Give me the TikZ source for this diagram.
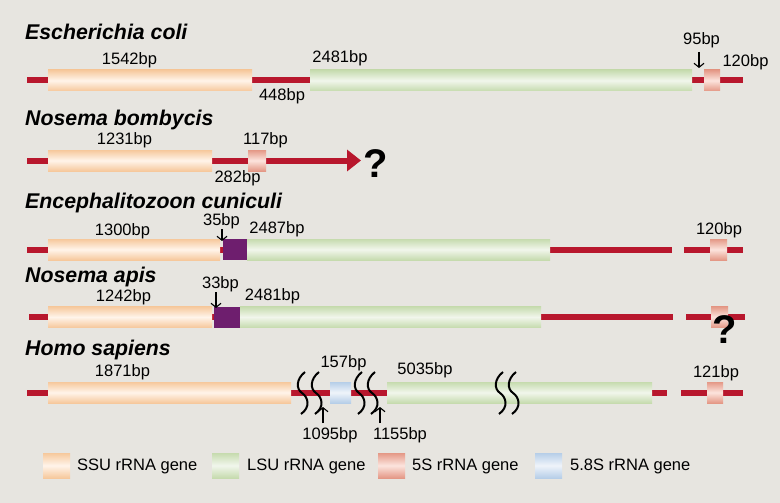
\documentclass[tikz,border=0pt]{standalone}
\usepackage{fontspec}
\setmainfont{Liberation Sans}
\usetikzlibrary{positioning}
\usetikzlibrary{arrows.meta}

\definecolor{bgcol}{HTML}{E7E5E0}
\definecolor{dnared}{HTML}{B8172D}
\definecolor{itspurple}{HTML}{6E1E6E}
\definecolor{ssuE}{HTML}{F6C89C}
\definecolor{ssuM}{HTML}{FFF4EA}
\definecolor{lsuE}{HTML}{C6DBAE}
\definecolor{lsuM}{HTML}{F1F6EC}
\definecolor{fsE}{HTML}{E49886}
\definecolor{fsM}{HTML}{FCE4DD}
\definecolor{efsE}{HTML}{B6CEE8}
\definecolor{efsM}{HTML}{EFF4FA}

\tikzset{
    gene/.style={anchor=west, minimum height=21pt, inner sep=0pt, outer sep=0pt},
    ssu/.style={gene, top color=ssuE, bottom color=ssuE, middle color=ssuM},
    lsu/.style={gene, top color=lsuE, bottom color=lsuE, middle color=lsuM},
    fives/.style={gene, top color=fsE, bottom color=fsE, middle color=fsM},
    efives/.style={gene, top color=efsE, bottom color=efsE, middle color=efsM},
    its/.style={gene, fill=itspurple},
    swatch/.style={gene, minimum height=25pt, minimum width=27pt},
    dna/.style={draw=dnared, line width=6pt},
    title/.style={font=\fontsize{21.3}{24}\selectfont\bfseries\itshape, anchor=base west, inner sep=0pt},
    lbl/.style={font=\fontsize{16.5}{18}\selectfont, anchor=base, inner sep=0pt},
    key/.style={lbl, anchor=base west},
    qmark/.style={font=\fontsize{40}{44}\selectfont\bfseries, anchor=base, inner sep=0pt},
    ptr/.style={line width=1.1pt, -{Straight Barb[length=4pt,width=10pt]}},
    brk/.pic={\draw[line width=2pt] (3,-21) .. controls (-6,-14) and (-6,-4) .. (0,0)
        .. controls (6,4) and (9,14) .. (-1,21);}
}

\begin{document}
\begin{tikzpicture}[x=1pt, y=-1pt]
    \fill[bgcol] (0,0) rectangle (780,503);

    % Escherichia coli
    \node[title] (tEc) at (25,40) {Escherichia coli};
    \coordinate (aEc) at (27,80.5);
    \coordinate (bEc) at (743,80.5);
    \draw[dna] (aEc) -- (bEc);
    \node[ssu, minimum width=204pt] (ssuEc) at (48,80.5) {};
    \node[lsu, minimum width=382pt] (lsuEc) at (310,80.5) {};
    \node[fives, minimum width=16pt] (fsEc) at (704,80.5) {};
    \node[lbl] (lSsuEc) at (129.5,65) {1542bp};
    \node[lbl] (lLsuEc) at (340,63) {2481bp};
    \node[lbl] (lSpEc) at (282,100) {448bp};
    \node[lbl] (lGapEc) at (701.5,45) {95bp};
    \node[lbl] (lFsEc) at (745.5,67) {120bp};
    \coordinate (pGapEcA) at (699,52);
    \coordinate (pGapEcB) at (699,68);
    \draw[ptr] (pGapEcA) -- (pGapEcB);

    % Nosema bombycis
    \node[title] (tNb) at (25,125) {Nosema bombycis};
    \coordinate (aNb) at (27,160.5);
    \coordinate (tipNb) at (361,160.5);
    \draw[dna, -{Triangle[length=14pt,width=21pt]}] (aNb) -- (tipNb);
    \node[ssu, minimum width=164pt] (ssuNb) at (48,160.5) {};
    \node[fives, minimum width=18pt] (fsNb) at (248,160.5) {};
    \node[lbl] (lSsuNb) at (124.5,145) {1231bp};
    \node[lbl] (lFsNb) at (265.5,145) {117bp};
    \node[lbl] (lSpNb) at (237.5,182) {282bp};
    \node[qmark] (qNb) at (376,177) {?};

    % Encephalitozoon cuniculi
    \node[title] (tEnc) at (25,208) {Encephalitozoon cuniculi};
    \coordinate (aEnc) at (27,249.5);
    \coordinate (bEnc) at (672,249.5);
    \coordinate (cEnc) at (684,249.5);
    \coordinate (dEnc) at (743,249.5);
    \draw[dna] (aEnc) -- (bEnc);
    \draw[dna] (cEnc) -- (dEnc);
    \node[ssu, minimum width=172pt] (ssuEnc) at (48,249.5) {};
    \node[its, minimum width=24.5pt] (itsEnc) at (222.5,249.5) {};
    \node[lsu, minimum width=303pt] (lsuEnc) at (247,249.5) {};
    \node[fives, minimum width=17pt] (fsEnc) at (710,249.5) {};
    \node[lbl] (lSsuEnc) at (122.5,235) {1300bp};
    \node[lbl] (lSpEnc) at (221.5,225) {35bp};
    \node[lbl] (lLsuEnc) at (277,233) {2487bp};
    \node[lbl] (lFsEnc) at (719,234) {120bp};
    \coordinate (pSpEncA) at (222,229);
    \coordinate (pSpEncB) at (222,241);
    \draw[ptr] (pSpEncA) -- (pSpEncB);

    % Nosema apis
    \node[title] (tNa) at (25,282) {Nosema apis};
    \coordinate (aNa) at (29,317);
    \coordinate (bNa) at (673,317);
    \coordinate (cNa) at (686,317);
    \coordinate (dNa) at (745,317);
    \draw[dna] (aNa) -- (bNa);
    \draw[dna] (cNa) -- (dNa);
    \node[ssu, minimum width=164pt] (ssuNa) at (48,317) {};
    \node[its, minimum width=26pt] (itsNa) at (214,317) {};
    \node[lsu, minimum width=301pt] (lsuNa) at (240,317) {};
    \node[fives, minimum width=17pt] (fsNa) at (711,317) {};
    \node[lbl] (lSsuNa) at (123.5,301) {1242bp};
    \node[lbl] (lSpNa) at (220.5,288) {33bp};
    \node[lbl] (lLsuNa) at (272.5,300) {2481bp};
    \node[qmark] (qNa) at (725,343) {?};
    \coordinate (pSpNaA) at (216,292);
    \coordinate (pSpNaB) at (216,308);
    \draw[ptr] (pSpNaA) -- (pSpNaB);

    % Homo sapiens
    \node[title] (tHs) at (25,355) {Homo sapiens};
    \coordinate (aHs) at (27,392.5);
    \coordinate (bHs) at (667,392.5);
    \coordinate (cHs) at (681,392.5);
    \coordinate (dHs) at (743,392.5);
    \draw[dna] (aHs) -- (bHs);
    \draw[dna] (cHs) -- (dHs);
    \node[ssu, minimum width=243pt] (ssuHs) at (48,392.5) {};
    \node[efives, minimum width=21pt] (efsHs) at (330,392.5) {};
    \node[lsu, minimum width=265pt] (lsuHs) at (387,392.5) {};
    \node[fives, minimum width=16pt] (fsHs) at (707,392.5) {};
    \pic at (302,393) {brk};
    \pic at (316,393) {brk};
    \pic at (359,393) {brk};
    \pic at (372,393) {brk};
    \pic at (500,393) {brk};
    \pic at (513,393) {brk};
    \node[lbl] (lSsuHs) at (122.5,376) {1871bp};
    \node[lbl] (lEfsHs) at (343.5,367) {157bp};
    \node[lbl] (lLsuHs) at (425,374) {5035bp};
    \node[lbl] (lFsHs) at (716,377) {121bp};
    \node[lbl] (lItsA) at (330,439) {1095bp};
    \node[lbl] (lItsB) at (400,439) {1155bp};
    \coordinate (pItsAA) at (323,423);
    \coordinate (pItsAB) at (323,407);
    \coordinate (pItsBA) at (380,423);
    \coordinate (pItsBB) at (380,407);
    \draw[ptr] (pItsAA) -- (pItsAB);
    \draw[ptr] (pItsBA) -- (pItsBB);

    % legend
    \node[swatch, top color=ssuE, bottom color=ssuE, middle color=ssuM] (kSsu) at (43,465.5) {};
    \node[key] (kSsuT) at (77,470) {SSU rRNA gene};
    \node[swatch, top color=lsuE, bottom color=lsuE, middle color=lsuM] (kLsu) at (212,465.5) {};
    \node[key] (kLsuT) at (247,470) {LSU rRNA gene};
    \node[swatch, top color=fsE, bottom color=fsE, middle color=fsM] (kFs) at (378,465.5) {};
    \node[key] (kFsT) at (412,470) {5S rRNA gene};
    \node[swatch, top color=efsE, bottom color=efsE, middle color=efsM] (kEfs) at (535,465.5) {};
    \node[key] (kEfsT) at (570,470) {5.8S rRNA gene};
\end{tikzpicture}
\end{document}
